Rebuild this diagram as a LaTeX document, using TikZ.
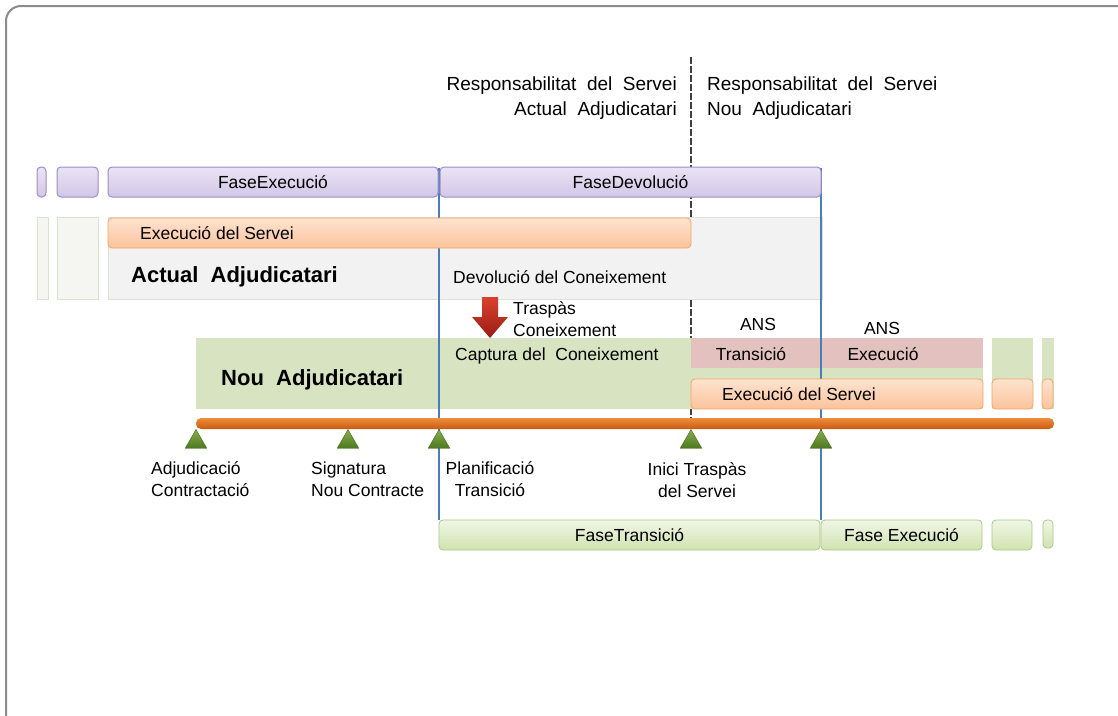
\documentclass[tikz,border=0pt]{standalone}
\usepackage{fontspec}
\setmainfont{Liberation Sans}
\usetikzlibrary{positioning,shapes.geometric}

\definecolor{lilaclar}{HTML}{EAE4F4}
\definecolor{lilafosc}{HTML}{D2C6E7}
\definecolor{lilavora}{HTML}{9F8CC8}
\definecolor{tarongclar}{HTML}{FEE3CF}
\definecolor{tarongfosc}{HTML}{FBC39C}
\definecolor{tarongvora}{HTML}{F4A462}
\definecolor{grisfons}{HTML}{F2F2F2}
\definecolor{grisvora}{HTML}{DCE2D5}
\definecolor{palfons}{HTML}{F5F6F1}
\definecolor{palvora}{HTML}{D8E3CB}
\definecolor{verdfons}{HTML}{D8E4C1}
\definecolor{rosafons}{HTML}{E3C1BF}
\definecolor{verdclar}{HTML}{F0F6E6}
\definecolor{verdmig}{HTML}{D0E3B0}
\definecolor{verdvora}{HTML}{A8C880}
\definecolor{blaulinia}{HTML}{4A7EBB}
\definecolor{eixclar}{HTML}{F08C3C}
\definecolor{eixfosc}{HTML}{C75B10}
\definecolor{fitaclar}{HTML}{86AE4E}
\definecolor{fitafosc}{HTML}{4E7820}
\definecolor{vermellclar}{HTML}{D9412F}
\definecolor{vermellfosc}{HTML}{9B1B14}

\tikzset{
  caixa/.style={anchor=north west, inner sep=0pt, outer sep=0pt,
    font=\fontsize{17.5}{21}\selectfont},
  fase/.style={caixa, draw=lilavora, line width=1pt, rounded corners=4pt,
    top color=lilaclar, bottom color=lilafosc},
  servei/.style={caixa, draw=tarongvora, line width=0.8pt, rounded corners=4pt,
    top color=tarongclar, bottom color=tarongfosc},
  zona/.style={caixa, fill=grisfons, draw=grisvora, line width=0.6pt},
  pal/.style={caixa, fill=palfons, draw=palvora, line width=0.8pt},
  nou/.style={caixa, fill=verdfons},
  ans/.style={caixa, fill=rosafons},
  transi/.style={caixa, draw=verdvora, line width=0.8pt, rounded corners=4pt,
    top color=verdclar, bottom color=verdmig},
  fita/.style={regular polygon, regular polygon sides=3, minimum size=25pt,
    inner sep=0pt, top color=fitaclar, bottom color=fitafosc, draw=fitafosc!90!black},
  etiq/.style={inner sep=0pt, font=\fontsize{17.5}{22}\selectfont},
  capcal/.style={inner sep=0pt, font=\fontsize{19}{25}\selectfont},
  negreta/.style={inner sep=0pt, font=\fontsize{22}{25}\selectfont\bfseries},
  limit/.style={blaulinia, line width=1.4pt}
}

\begin{document}
\begin{tikzpicture}[x=1pt, y=-1pt]
\clip (0,0) rectangle (1118,715);
\draw[gray!90, line width=2pt, rounded corners=15pt] (6,6) rectangle (1140,740);
%----------------------------------
\coordinate (dtop) at (691,57);
\coordinate (dbot) at (691,425);
\draw[black!75, dash pattern=on 7pt off 2pt, line width=1.1pt] (dtop) -- (dbot);
%----------------------------------
\node[pal, minimum width=11, minimum height=82] (pal1) at (37,217) {};
\node[pal, minimum width=41, minimum height=82] (pal2) at (57,217) {};
\node[zona, minimum width=714, minimum height=82] (zact) at (108,217) {};
%----------------------------------
\node[nou, minimum width=787, minimum height=71] (znou) at (196,338) {};
\node[nou, minimum width=41, minimum height=71] (znou2) at (992,338) {};
\node[nou, minimum width=12, minimum height=71] (znou3) at (1042,338) {};
\node[ans, minimum width=292, minimum height=30] (ansbar) at (691,338) {};
%----------------------------------
\coordinate (l1top) at (439,168);
\coordinate (l1bot) at (439,520);
\coordinate (l2top) at (821,168);
\coordinate (l2bot) at (821,520);
\draw[limit] (l1top) -- (l1bot);
\draw[limit] (l2top) -- (l2bot);
%----------------------------------
\node[fase, minimum width=9, minimum height=30] (fa1) at (37,167) {};
\node[fase, minimum width=41, minimum height=30] (fa2) at (57,167) {};
\node[fase, minimum width=330, minimum height=30] (fexec) at (108,167) {FaseExecució};
\node[fase, minimum width=381, minimum height=30] (fdev) at (440,167) {FaseDevolució};
%----------------------------------
\node[servei, minimum width=583, minimum height=30] (servact) at (108,218) {};
\node[servei, minimum width=292, minimum height=30] (servnou) at (691,379) {};
\node[servei, minimum width=41, minimum height=30] (servnou2) at (992,379) {};
\node[servei, minimum width=11, minimum height=30] (servnou3) at (1042,379) {};
%----------------------------------
\node[caixa, minimum width=858, minimum height=11, rounded corners=5pt,
  top color=eixclar, bottom color=eixfosc] (eix) at (196,418) {};
\node[fita] (f1) at (196,442) {};
\node[fita] (f2) at (348,442) {};
\node[fita] (f3) at (439,442) {};
\node[fita] (f4) at (691,442) {};
\node[fita] (f5) at (821,442) {};
%----------------------------------
\node[transi, minimum width=381, minimum height=30] (ftrans) at (439,520) {FaseTransició};
\node[transi, minimum width=161, minimum height=30] (fexnou) at (821,520) {Fase Execució};
\node[transi, minimum width=40, minimum height=30] (ft3) at (992,520) {};
\node[transi, minimum width=10, minimum height=28] (ft4) at (1043,520) {};
%----------------------------------
\shade[top color=vermellclar, bottom color=vermellfosc]
  (482,297) -- (498,297) -- (498,317) -- (508,317) -- (490,338)
  -- (472,317) -- (482,317) -- cycle;
%----------------------------------
\node[capcal, anchor=east, align=right] (respact) at (677,98)
  {Responsabilitat\ \ del\ \ Servei\\Actual\ \ Adjudicatari};
\node[capcal, anchor=west, align=left] (respnou) at (707,98)
  {Responsabilitat\ \ del\ \ Servei\\Nou\ \ Adjudicatari};
\node[etiq, anchor=west] (tservact) at (140,233) {Execució del Servei};
\node[negreta, anchor=west] (tact) at (131,277) {Actual\ \ Adjudicatari};
\node[etiq, anchor=west] (tdev) at (453,277) {Devolució del Coneixement};
\node[etiq, anchor=west, align=left] (ttrasp) at (513,319) {Traspàs\\Coneixement};
\node[etiq, anchor=west] (tcapt) at (455,356) {Captura del\ \ Coneixement};
\node[negreta, anchor=west] (tnou) at (221,380) {Nou\ \ Adjudicatari};
\node[etiq] (ans1) at (758,324) {ANS};
\node[etiq] (ans2) at (882,328) {ANS};
\node[etiq] (ttran) at (751,354) {Transició};
\node[etiq] (texec) at (883,354) {Execució};
\node[etiq, anchor=west] (tservnou) at (722,394) {Execució del Servei};
%----------------------------------
\node[etiq, anchor=west, align=left] (t1) at (151,479) {Adjudicació\\Contractació};
\node[etiq, anchor=west, align=left] (t2) at (311,479) {Signatura\\Nou Contracte};
\node[etiq, align=center] (t3) at (490,479) {Planificació\\Transició};
\node[etiq, align=center] (t4) at (697,480) {Inici Traspàs\\del Servei};
\end{tikzpicture}
\end{document}
